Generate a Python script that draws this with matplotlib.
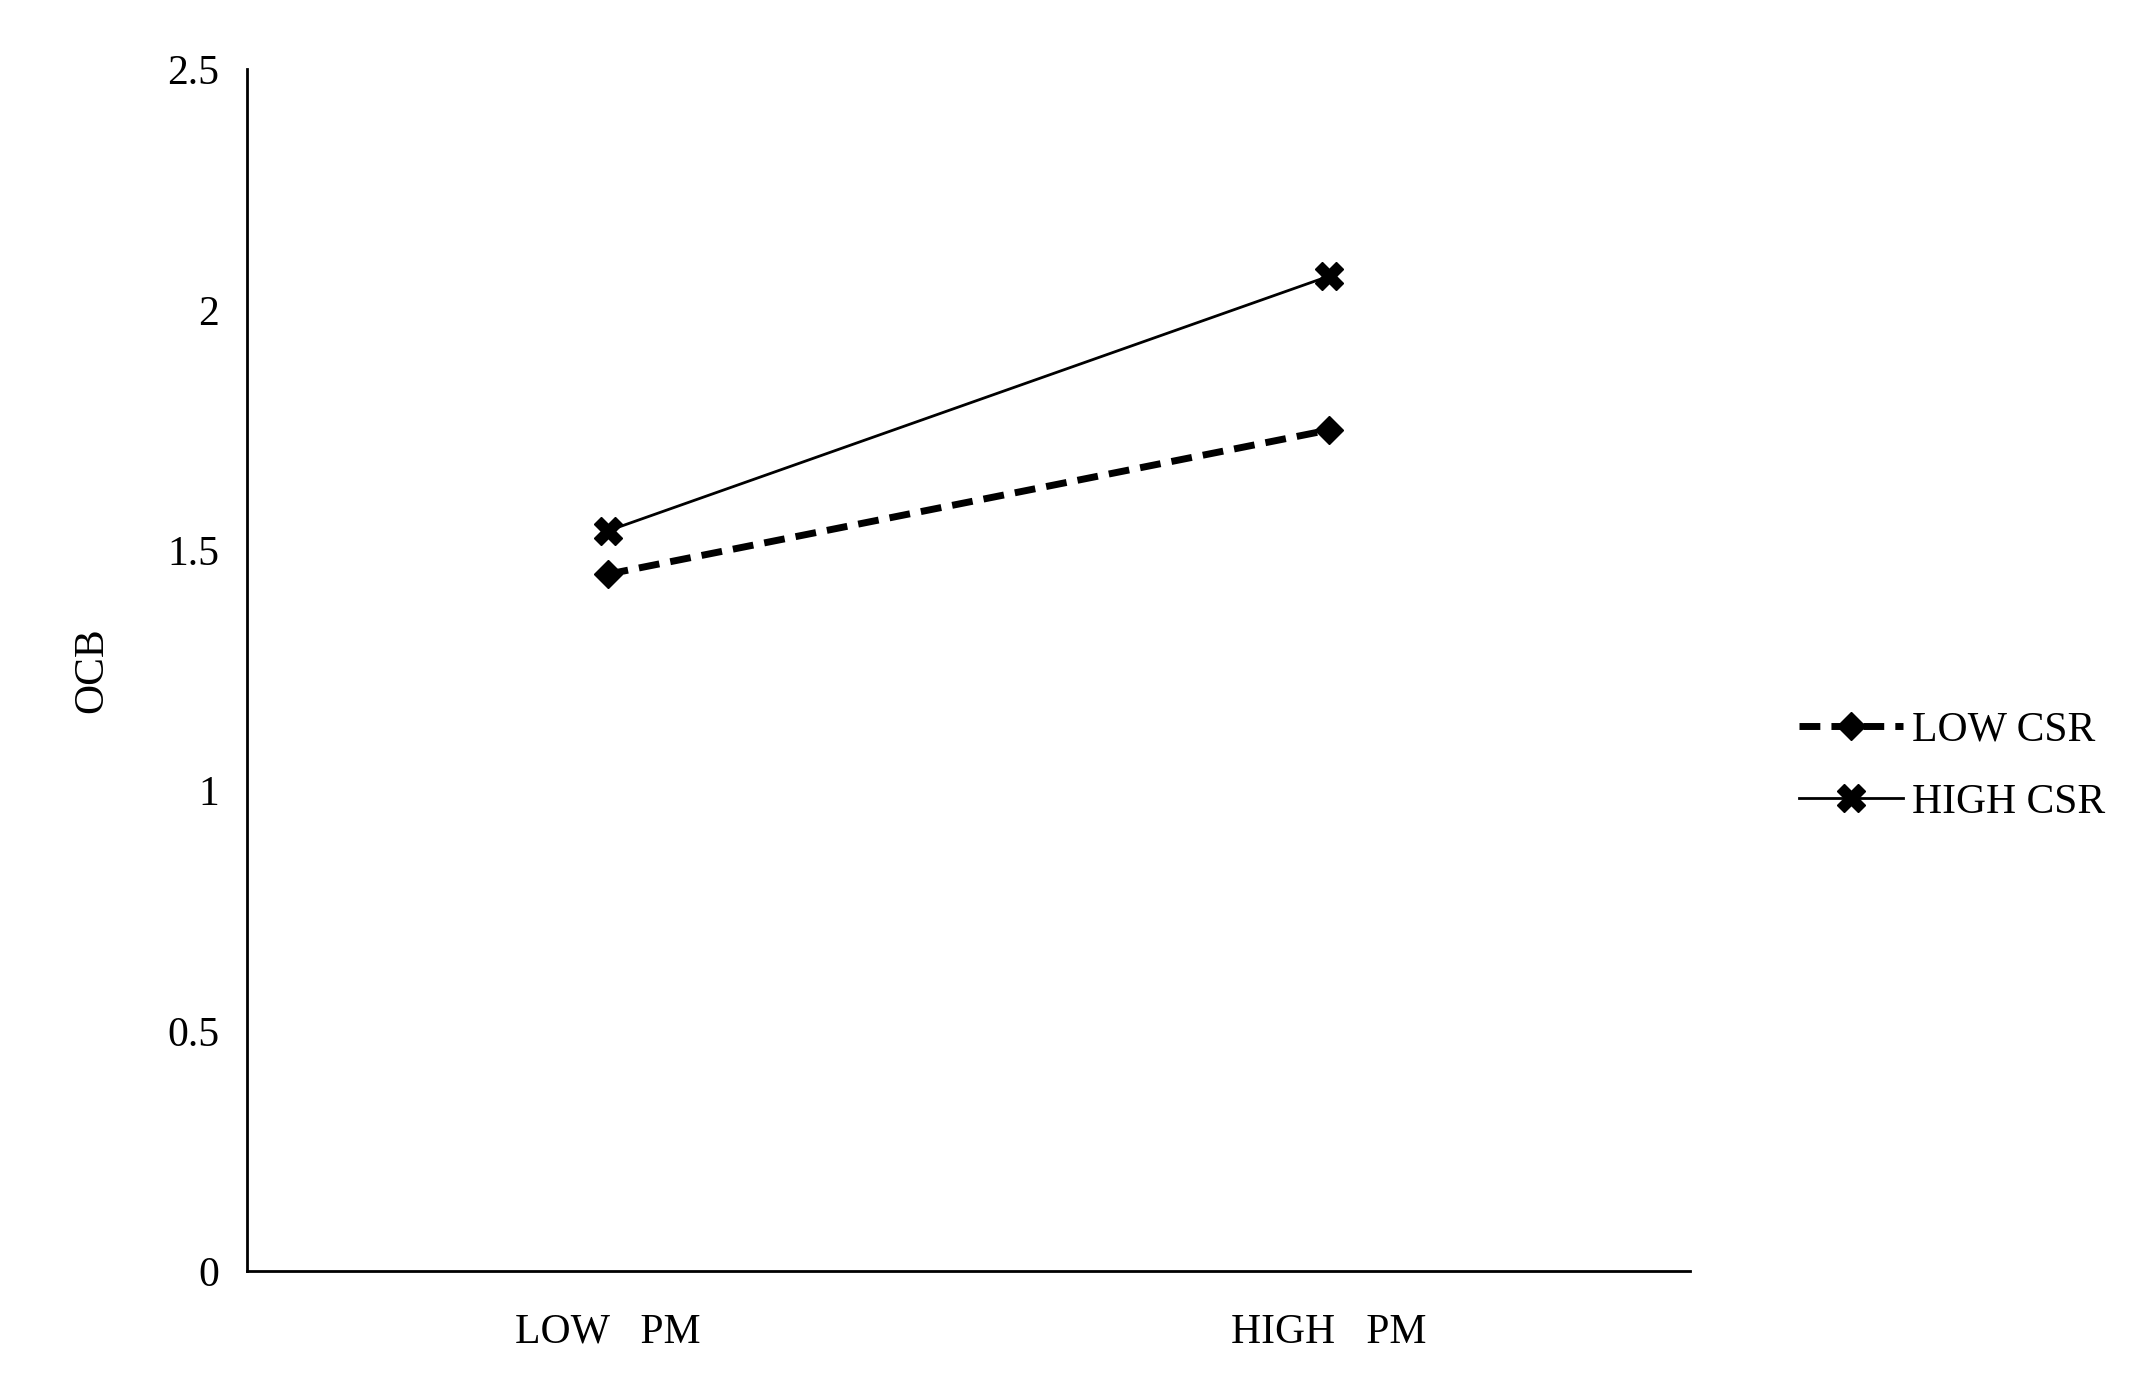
import matplotlib
matplotlib.use("Agg")
import matplotlib.pyplot as plt

categories = ["LOW   PM", "HIGH   PM"]
low_csr = [1.45, 1.75]
high_csr = [1.54, 2.07]

plt.rcParams['font.family'] = ['Liberation Serif', 'DejaVu Serif']
fig = plt.figure(figsize=(21.47, 13.88), dpi=100)
ax = fig.add_axes([0.115, 0.084, 0.672, 0.866])
x = [0.5, 1.5]
ax.plot(x, low_csr, color='black', lw=5, ls=(0, (3, 1.6)), marker='D', ms=14, label='LOW CSR')
ax.plot(x, high_csr, color='black', lw=2, marker='X', ms=20, label='HIGH CSR')
ax.set_xlim(0, 2)
ax.set_ylim(0, 2.5)
ax.set_xticks(x)
ax.set_xticklabels(categories)
ax.set_yticks([0, 0.5, 1, 1.5, 2, 2.5])
ax.set_yticklabels(['0', '0.5', '1', '1.5', '2', '2.5'])
ax.tick_params(axis='both', labelsize=30, length=0, pad=20)
ax.tick_params(axis='x', pad=30)
for s in ['top', 'right']:
    ax.spines[s].set_visible(False)
for s in ['left', 'bottom']:
    ax.spines[s].set_linewidth(2)
ax.set_ylabel('OCB', fontsize=30, labelpad=40)
ax.legend(loc='center left', bbox_to_anchor=(1.05, 0.42), frameon=False, fontsize=30,
          handlelength=2.5, handletextpad=0.2, labelspacing=0.8)
fig.savefig('out.png', dpi=100)
